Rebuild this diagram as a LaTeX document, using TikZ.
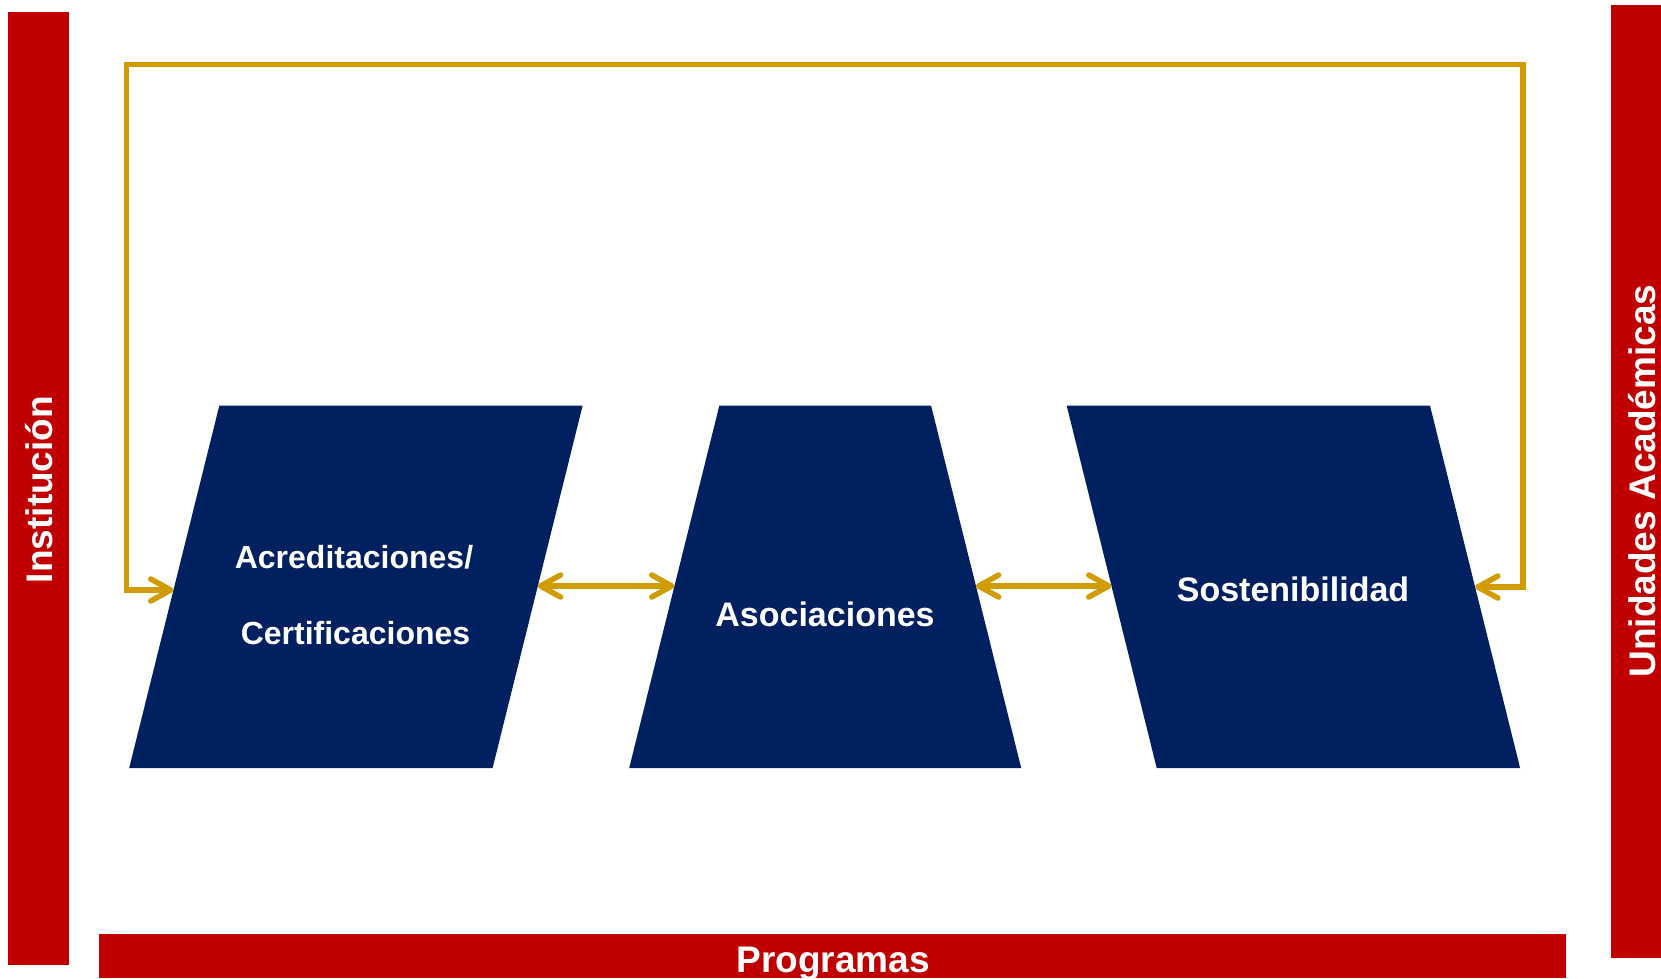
\documentclass[tikz,border=0pt]{standalone}
\usepackage{fontspec}
\setmainfont{Liberation Sans}
\usetikzlibrary{arrows.meta}
\definecolor{barred}{HTML}{C00000}
\definecolor{navy}{HTML}{002060}
\definecolor{gold}{HTML}{D09C00}
\tikzset{
  bar/.style={fill=barred, draw=none},
  shapebox/.style={fill=navy, draw=none},
  bartext/.style={text=white, font=\fontsize{37}{44}\selectfont\bfseries, inner sep=0pt, anchor=base},
  boxtext/.style={text=white, font=\fontsize{34}{40}\selectfont\bfseries, inner sep=0pt, anchor=base},
  link/.style={draw=gold, line width=5.5pt, arrows={Straight Barb[length=20pt,width=22pt,round]-Straight Barb[length=20pt,width=22pt,round]}},
}
\begin{document}
\begin{tikzpicture}[x=1pt,y=-1pt]
\useasboundingbox (0,0) rectangle (1661,978);
% side and bottom bars
\fill[bar] (8,12) rectangle (69,965);
\fill[bar] (1611,5) rectangle (1661,958);
\fill[bar] (99,934) rectangle (1566,978);
\node[bartext, rotate=90] (inst) at (52.7,489.5) {Institución};
\node[bartext, rotate=90] (unid) at (1655,481) {Unidades Académicas};
\node[bartext] (prog) at (833,972) {Programas};
% shapes
\fill[shapebox] (219.3,405.7) -- (582.6,405.7) -- (492.6,768) -- (129.2,768) -- cycle;
\fill[shapebox] (719.3,405.7) -- (931.1,405.7) -- (1021.2,768) -- (629.2,768) -- cycle;
\fill[shapebox] (1066.7,405.7) -- (1430,405.7) -- (1520.1,768) -- (1156.7,768) -- cycle;
\node[boxtext, font=\fontsize{32}{38}\selectfont\bfseries] (acr1) at (354,568) {Acreditaciones/};
\node[boxtext, font=\fontsize{32}{38}\selectfont\bfseries] (acr2) at (355.5,644) {Certificaciones};
\node[boxtext] (aso) at (825,626.7) {Asociaciones};
\node[boxtext] (sos) at (1293,601) {Sostenibilidad};
% edge points
\coordinate (acrL) at (173.5,590);
\coordinate (acrR) at (537.8,586);
\coordinate (asoL) at (674.5,586);
\coordinate (asoR) at (975.9,586);
\coordinate (sosL) at (1111.5,586);
\coordinate (sosR) at (1475.1,587);
\coordinate (topR) at (1523,64.5);
\coordinate (topL) at (126.5,64.5);
% connectors
\draw[link] (acrR) -- (asoL);
\draw[link] (asoR) -- (sosL);
\draw[link] (sosR) -| (topR) -- (topL) |- (acrL);
\end{tikzpicture}
\end{document}
